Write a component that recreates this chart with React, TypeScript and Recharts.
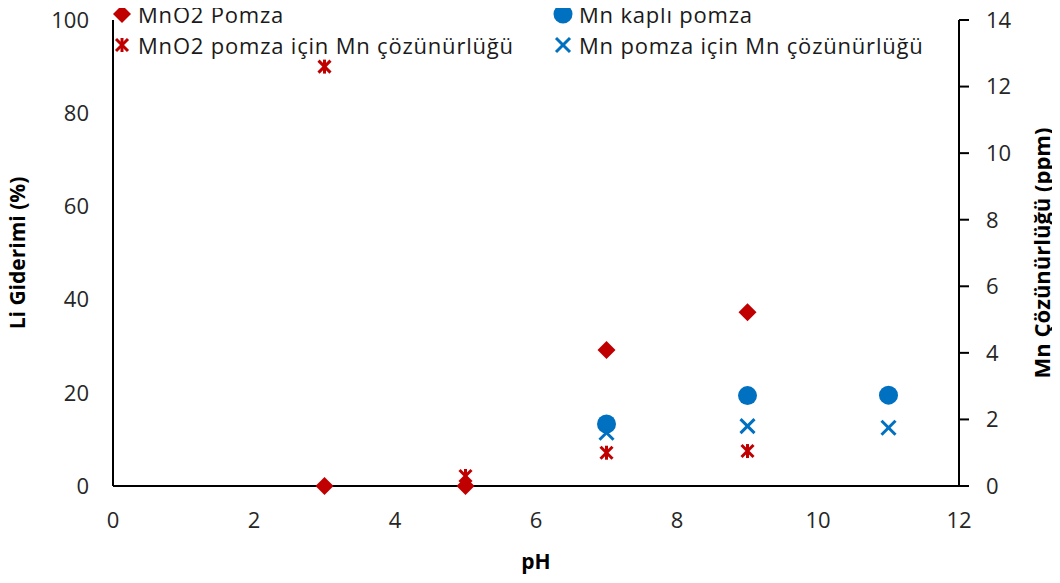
import React from 'react';
import { ScatterChart, Scatter, XAxis, YAxis, Legend, Label } from 'recharts';

const RED = '#C00000';
const BLUE = '#0070C0';
const FONT = '"Open Sans", sans-serif';

const mno2Removal = [
  { ph: 3, v: 0 },
  { ph: 5, v: 0 },
  { ph: 7, v: 29.2 },
  { ph: 9, v: 37.3 },
];
const mnRemoval = [
  { ph: 7, v: 13.3 },
  { ph: 9, v: 19.4 },
  { ph: 11, v: 19.5 },
];
const mno2Solubility = [
  { ph: 3, v: 12.6 },
  { ph: 5, v: 0.3 },
  { ph: 7, v: 1.0 },
  { ph: 9, v: 1.05 },
];
const mnSolubility = [
  { ph: 7, v: 1.6 },
  { ph: 9, v: 1.8 },
  { ph: 11, v: 1.75 },
];

const xTicks = [0, 2, 4, 6, 8, 10, 12];
const leftTicks = [0, 20, 40, 60, 80, 100];
const rightTicks = [0, 2, 4, 6, 8, 10, 12, 14];

type Kind = 'diamond' | 'circle' | 'asterisk' | 'x';

const legendItems: { name: string; kind: Kind; left: number; top: number }[] = [
  { name: 'MnO2 Pomza', kind: 'diamond', left: 0, top: 0 },
  { name: 'Mn kaplı pomza', kind: 'circle', left: 441, top: 0 },
  { name: 'MnO2 pomza için Mn çözünürlüğü', kind: 'asterisk', left: 0, top: 31 },
  { name: 'Mn pomza için Mn çözünürlüğü', kind: 'x', left: 441, top: 31 },
];

const Marker = ({ kind, cx, cy }: { kind: Kind; cx: number; cy: number }) => {
  if (cx == null || cy == null) return null;
  switch (kind) {
    case 'diamond':
      return <path d={`M${cx},${cy - 9}L${cx + 9},${cy}L${cx},${cy + 9}L${cx - 9},${cy}Z`} fill={RED} />;
    case 'circle':
      return <circle cx={cx} cy={cy} r={9.5} fill={BLUE} />;
    case 'asterisk':
      return (
        <g stroke={RED} strokeWidth={3}>
          <line x1={cx - 6} y1={cy - 6} x2={cx + 6} y2={cy + 6} />
          <line x1={cx - 6} y1={cy + 6} x2={cx + 6} y2={cy - 6} />
          <line x1={cx} y1={cy - 7} x2={cx} y2={cy + 7} />
        </g>
      );
    case 'x':
      return (
        <g stroke={BLUE} strokeWidth={3}>
          <line x1={cx - 7} y1={cy - 7} x2={cx + 7} y2={cy + 7} />
          <line x1={cx - 7} y1={cy + 7} x2={cx + 7} y2={cy - 7} />
        </g>
      );
  }
  return null;
};

const LegendBox = () => (
  <div style={{ position: 'relative', width: 860, height: 62, fontFamily: FONT, fontSize: 22, letterSpacing: 0.8, color: '#1a1a1a' }}>
    {legendItems.map((it) => (
      <div key={it.name} style={{ position: 'absolute', left: it.left, top: it.top, display: 'flex', alignItems: 'center', whiteSpace: 'nowrap', height: 28 }}>
        <svg width={24} height={28}>
          <Marker kind={it.kind} cx={12} cy={14} />
        </svg>
        <span style={{ marginLeft: 4, lineHeight: '28px' }}>{it.name}</span>
      </div>
    ))}
  </div>
);

export default function App() {
  const tick = { fill: '#262626', fontSize: 22, fontFamily: FONT };
  const axisLine = { stroke: '#000', strokeWidth: 2 };
  return (
    <div style={{ margin: -8, width: 1060, height: 583, background: '#fff' }}>
      <ScatterChart width={1060} height={583} margin={{ top: 20, right: 0, bottom: 0, left: 0 }} style={{ fontFamily: FONT }}>
        <XAxis
          type="number"
          dataKey="ph"
          domain={[0, 12]}
          ticks={xTicks}
          height={97}
          tick={tick}
          tickLine={false}
          tickSize={0}
          tickMargin={26}
          axisLine={axisLine}
        >
          <Label value="pH" position="insideBottom" offset={14} style={{ fontWeight: 700, fontSize: 21, fill: '#000', fontFamily: FONT }} />
        </XAxis>
        <YAxis
          yAxisId="left"
          type="number"
          dataKey="v"
          domain={[0, 100]}
          ticks={leftTicks}
          width={113}
          tick={tick}
          tickLine={false}
          tickSize={0}
          tickMargin={24}
          axisLine={axisLine}
        >
          <Label value="Li Giderimi (%)" angle={-90} position="insideLeft" offset={18} style={{ textAnchor: 'middle', fontWeight: 700, fontSize: 21, fill: '#000', fontFamily: FONT }} />
        </YAxis>
        <YAxis
          yAxisId="right"
          orientation="right"
          type="number"
          dataKey="v"
          domain={[0, 14]}
          ticks={rightTicks}
          width={101}
          tick={tick}
          tickLine={{ stroke: '#000', strokeWidth: 2 }}
          tickSize={10}
          tickMargin={17}
          axisLine={axisLine}
        >
          <Label value="Mn Çözünürlüğü  (ppm)" angle={-90} position="insideRight" offset={18} style={{ textAnchor: 'middle', fontWeight: 700, fontSize: 22, fill: '#000', fontFamily: FONT }} />
        </YAxis>
        <Legend
          layout="vertical"
          align="center"
          verticalAlign="middle"
          content={() => <LegendBox />}
          wrapperStyle={{ position: 'absolute', top: 0, left: 110, width: 860, height: 62 }}
        />
        <Scatter name="MnO2 Pomza" data={mno2Removal} yAxisId="left" isAnimationActive={false} shape={(p: any) => <Marker kind="diamond" cx={p.cx} cy={p.cy} />} />
        <Scatter name="Mn kaplı pomza" data={mnRemoval} yAxisId="left" isAnimationActive={false} shape={(p: any) => <Marker kind="circle" cx={p.cx} cy={p.cy} />} />
        <Scatter name="MnO2 pomza için Mn çözünürlüğü" data={mno2Solubility} yAxisId="right" isAnimationActive={false} shape={(p: any) => <Marker kind="asterisk" cx={p.cx} cy={p.cy} />} />
        <Scatter name="Mn pomza için Mn çözünürlüğü" data={mnSolubility} yAxisId="right" isAnimationActive={false} shape={(p: any) => <Marker kind="x" cx={p.cx} cy={p.cy} />} />
      </ScatterChart>
    </div>
  );
}
